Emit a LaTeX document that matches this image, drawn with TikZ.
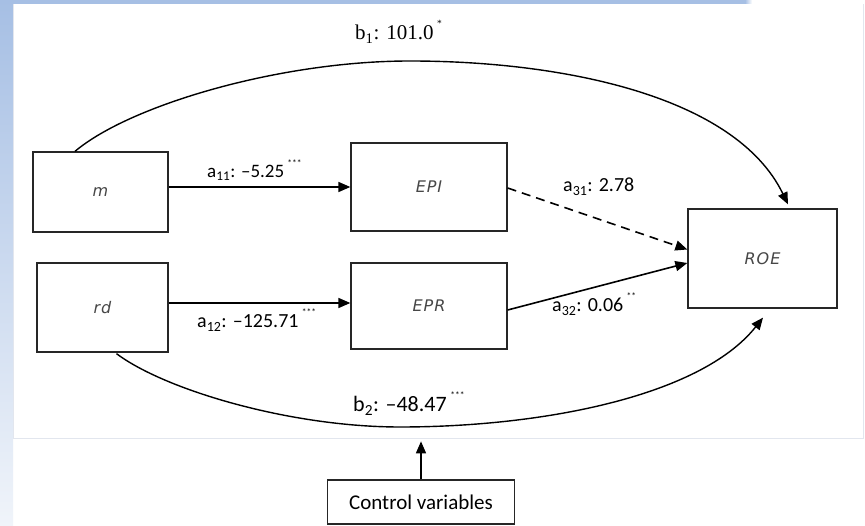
\documentclass[tikz,border=0pt]{standalone}
\usepackage{fontspec}
\setmainfont{Carlito}
\newfontfamily\boxfont{DejaVu Sans}[LetterSpace=6]
\newfontfamily\serifnum{Liberation Serif}
\usetikzlibrary{arrows.meta,calc}

\definecolor{stripblue}{HTML}{A6BFE4}
\definecolor{striplight}{HTML}{F0F4FA}
\definecolor{edgegray}{HTML}{E2E6EE}
\definecolor{inkgray}{HTML}{262626}

% significance stars, set small and raised
\newcommand{\sigstars}[1]{\,\raisebox{0.62em}{\fontsize{9.5}{9.5}\selectfont #1}}

\tikzset{
  varbox/.style={draw=inkgray, line width=1.3pt, fill=white, inner sep=0pt,
    font=\boxfont\itshape\fontsize{16}{16}\selectfont, text=black!72},
  arr/.style={draw=black, line width=1.6pt,
    -{Triangle[length=12pt,width=10pt]}},
  curvearr/.style={draw=black, line width=1.4pt,
    -{Triangle[length=12pt,width=10pt]}},
  dasharr/.style={arr, dash pattern=on 9pt off 6pt},
  coef/.style={inner sep=0pt, anchor=base west, text=black,
    font=\fontsize{19}{19}\selectfont},
}

\begin{document}
\begin{tikzpicture}[x=1pt,y=-1pt]
\useasboundingbox (0,0) rectangle (865,526);

% slide backdrop: blue strips at the left and top, white panel
\fill[white] (0,0) rectangle (865,526);
\shade[top color=stripblue, bottom color=striplight] (0,0) rectangle (13,526);
\fill[stripblue] (0,0) rectangle (745,4);
\shade[left color=stripblue, right color=white] (745,0) rectangle (752,4);
\draw[edgegray, line width=0.8pt] (13.5,4) -- (13.5,438) -- (863.5,438) -- (863.5,4);

% variables
\node[varbox, minimum width=135pt, minimum height=80pt] (m)   at (100.5,192)  {m};
\node[varbox, minimum width=131pt, minimum height=89pt] (rd)  at (102.5,307.5) {rd};
\node[varbox, minimum width=156pt, minimum height=88pt] (epi) at (429,187)    {EPI};
\node[varbox, minimum width=156pt, minimum height=86pt] (epr) at (429,306)    {EPR};
\node[varbox, minimum width=149pt, minimum height=99pt] (roe) at (762.5,258.5) {ROE};
\node[draw=inkgray, line width=1.3pt, fill=white, inner sep=0pt,
      minimum width=187pt, minimum height=44pt,
      font=\fontsize{21}{21}\selectfont] (ctrl) at (421,502) {Control variables};

% free ends of the arrows that stop short of a box
\coordinate (b1tip)   at ($(roe.north)+(25.5,-4)$);
\coordinate (b2tip)   at ($(roe.south)+(0.5,9)$);
\coordinate (ctrltip) at ($(ctrl.north)+(0,-38)$);

% paths through the mediators
\draw[arr] (m.east |- epi.west) -- (epi.west);
\draw[arr] ($(rd.east |- epr.west)+(0,-3)$) -- ($(epr.west)+(0,-3)$);
\draw[dasharr] ($(epi.east)+(0,1)$) -- ($(roe.west)+(0,-9)$);
\draw[arr] ($(epr.east)+(0,4)$) -- ($(roe.west)+(0,4.5)$);

% direct effects
\draw[curvearr] ($(m.north)+(-25.5,0)$)
  .. controls (130,105) and (280,61) .. (410,61)
  .. controls (560,61) and (735,95) .. (b1tip);
\draw[curvearr] ($(rd.south)+(14,1)$)
  .. controls (165,390) and (290,427) .. (400,427)
  .. controls (540,427) and (700,397) .. (b2tip);

% controls
\draw[arr] (ctrl.north) -- (ctrltip);

% coefficients
\node[coef, font=\serifnum\fontsize{21}{21}\selectfont] (lb1) at (355,40)
  {b\textsubscript{1}: 101.0\sigstars{*}};
\node[coef] (la11) at (207,178) {a\textsubscript{11}: \textendash5.25\sigstars{***}};
\node[coef, font=\fontsize{20}{20}\selectfont] (la12) at (197,328)
  {a\textsubscript{12}: \textendash125.71\sigstars{***}};
\node[coef, font=\fontsize{20}{20}\selectfont] (la31) at (563,192) {a\textsubscript{31}: 2.78};
\node[coef, font=\fontsize{20}{20}\selectfont] (la32) at (552,312)
  {a\textsubscript{32}: 0.06\sigstars{**}};
\node[coef, font=\fontsize{22}{22}\selectfont] (lb2) at (353,412)
  {b\textsubscript{2}: \textendash48.47\sigstars{***}};
\end{tikzpicture}
\end{document}
